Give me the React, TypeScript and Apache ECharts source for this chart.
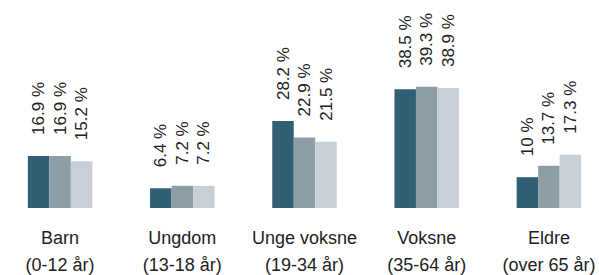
import React, { useEffect, useRef } from "react";
import * as echarts from "echarts";

const categories = ["Barn\n(0-12 år)", "Ungdom\n(13-18 år)", "Unge voksne\n(19-34 år)", "Voksne\n(35-64 år)", "Eldre\n(over 65 år)"];
const series1 = [16.9, 6.4, 28.2, 38.5, 10];
const series2 = [16.9, 7.2, 22.9, 39.3, 13.7];
const series3 = [15.2, 7.2, 21.5, 38.9, 17.3];
const colors = ["#325f76", "#8e9ea6", "#c6d0d6"];

export default function App() {
  const ref = useRef<HTMLDivElement>(null);
  useEffect(() => {
    if (!ref.current) return;
    const chart = echarts.init(ref.current, null, { renderer: "svg" });
    const font = "'Liberation Sans', Arial, Helvetica, sans-serif";
    const mk = (data: number[], color: string) => ({
      type: "bar",
      data,
      barWidth: 21.5,
      barGap: "0%",
      itemStyle: { color },
      label: {
        show: true,
        position: "top",
        rotate: 90,
        align: "left",
        verticalAlign: "middle",
        distance: 21,
        formatter: (p: any) => `${p.value} %`,
        fontFamily: font,
        fontSize: 17,
        color: "#222",
      },
    });
    chart.setOption({
      animation: false,
      grid: { left: -1, width: 611, top: 23, bottom: 67, outerBoundsMode: "none", containLabel: false },
      xAxis: {
        type: "category",
        data: categories,
        axisLine: { show: false },
        axisTick: { show: false },
        axisLabel: {
          interval: 0,
          margin: 16,
          fontFamily: font,
          fontSize: 18,
          lineHeight: 27,
          color: "#222",
        },
      },
      yAxis: { type: "value", min: 0, max: 60, show: false, splitLine: { show: false } },
      series: [mk(series1, colors[0]), mk(series2, colors[1]), mk(series3, colors[2])],
    });
    return () => chart.dispose();
  }, []);
  return <div ref={ref} style={{ position: "fixed", left: 0, top: 0, width: 599, height: 275, background: "#fff" }} />;
}
